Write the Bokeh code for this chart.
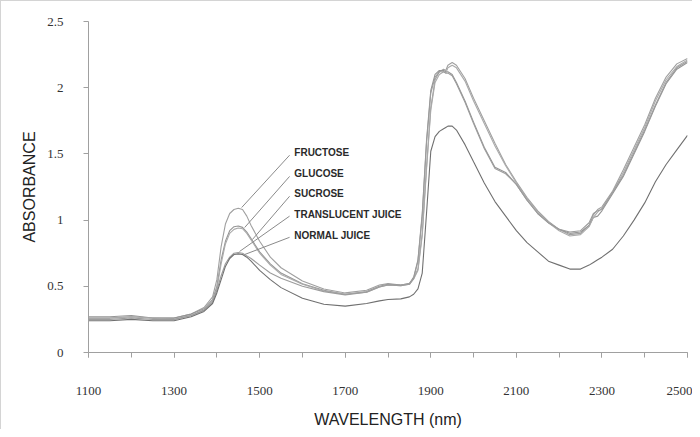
from bokeh.plotting import figure
from bokeh.models import FixedTicker, CustomJSTickFormatter
from bokeh.core.properties import value
from bokeh.embed import file_html
from bokeh.resources import INLINE

wavelength = [1100, 1150, 1200, 1250, 1300, 1340, 1370, 1390, 1400, 1410, 1420, 1430, 1440, 1450,
              1460, 1470, 1480, 1500, 1525, 1550, 1600, 1650, 1700, 1750, 1780, 1800, 1830, 1850,
              1860, 1870, 1880, 1890, 1900, 1910, 1920, 1930, 1935, 1940, 1950, 1960, 1980, 2000,
              2025, 2050, 2075, 2100, 2125, 2150, 2175, 2200, 2225, 2250, 2270, 2280, 2290, 2300,
              2325, 2350, 2375, 2400, 2425, 2450, 2475, 2500]

fructose = [0.26, 0.26, 0.27, 0.26, 0.26, 0.29, 0.34, 0.42, 0.55, 0.80, 0.97, 1.05, 1.08, 1.09,
            1.08, 1.03, 0.96, 0.84, 0.72, 0.64, 0.54, 0.48, 0.45, 0.47, 0.51, 0.52, 0.51, 0.52,
            0.56, 0.63, 0.90, 1.40, 1.85, 2.06, 2.12, 2.14, 2.13, 2.17, 2.19, 2.17, 2.07, 1.92,
            1.75, 1.58, 1.42, 1.29, 1.17, 1.07, 0.99, 0.93, 0.89, 0.90, 0.96, 1.04, 1.08, 1.10,
            1.22, 1.38, 1.55, 1.72, 1.92, 2.08, 2.18, 2.22]

glucose = [0.27, 0.27, 0.28, 0.26, 0.26, 0.29, 0.33, 0.40, 0.50, 0.70, 0.84, 0.92, 0.95, 0.955,
           0.945, 0.91, 0.86, 0.76, 0.67, 0.60, 0.52, 0.47, 0.44, 0.46, 0.50, 0.515, 0.51, 0.52,
           0.57, 0.70, 1.05, 1.60, 1.98, 2.10, 2.13, 2.13, 2.12, 2.12, 2.10, 2.04, 1.90, 1.74,
           1.55, 1.40, 1.36, 1.27, 1.15, 1.05, 0.98, 0.93, 0.90, 0.91, 0.96, 1.02, 1.03, 1.07,
           1.20, 1.33, 1.50, 1.67, 1.86, 2.03, 2.14, 2.19]

sucrose = [0.26, 0.26, 0.27, 0.26, 0.25, 0.28, 0.32, 0.39, 0.48, 0.67, 0.82, 0.90, 0.93, 0.94,
           0.935, 0.90, 0.85, 0.75, 0.66, 0.59, 0.515, 0.465, 0.44, 0.455, 0.495, 0.51, 0.505, 0.515,
           0.555, 0.62, 0.88, 1.38, 1.83, 2.04, 2.10, 2.12, 2.11, 2.15, 2.17, 2.15, 2.05, 1.90,
           1.73, 1.56, 1.41, 1.28, 1.16, 1.06, 0.98, 0.92, 0.88, 0.89, 0.95, 1.02, 1.06, 1.09,
           1.21, 1.36, 1.53, 1.70, 1.90, 2.06, 2.16, 2.21]

translucent_juice = [0.25, 0.25, 0.26, 0.25, 0.25, 0.28, 0.32, 0.38, 0.47, 0.58, 0.67, 0.72, 0.75, 0.755,
                     0.75, 0.73, 0.71, 0.66, 0.60, 0.56, 0.50, 0.46, 0.435, 0.455, 0.495, 0.51, 0.505, 0.515,
                     0.56, 0.69, 1.03, 1.58, 1.96, 2.08, 2.12, 2.12, 2.11, 2.11, 2.09, 2.03, 1.89, 1.73,
                     1.54, 1.39, 1.35, 1.27, 1.15, 1.05, 0.98, 0.93, 0.91, 0.92, 0.98, 1.05, 1.07, 1.08,
                     1.21, 1.34, 1.51, 1.68, 1.87, 2.04, 2.15, 2.20]

normal_juice = [0.24, 0.24, 0.25, 0.24, 0.24, 0.27, 0.31, 0.37, 0.45, 0.55, 0.65, 0.71, 0.74, 0.745,
                0.74, 0.72, 0.69, 0.62, 0.55, 0.49, 0.41, 0.365, 0.35, 0.37, 0.39, 0.40, 0.405, 0.42,
                0.44, 0.48, 0.60, 1.05, 1.52, 1.63, 1.67, 1.69, 1.70, 1.71, 1.71, 1.68, 1.57, 1.44,
                1.28, 1.14, 1.03, 0.92, 0.83, 0.76, 0.69, 0.66, 0.63, 0.63, 0.66, 0.68, 0.70, 0.72,
                0.78, 0.88, 1.00, 1.13, 1.29, 1.42, 1.53, 1.64]

labels = ["FRUCTOSE", "GLUCOSE", "SUCROSE", "TRANSLUCENT JUICE", "NORMAL JUICE"]
label_x = [1581, 1581, 1581, 1581, 1581]
label_y = [1.51, 1.35, 1.20, 1.04, 0.88]
leader_x0 = [1570, 1570, 1570, 1570, 1570]
leader_y0 = [1.49, 1.33, 1.18, 1.03, 0.87]
leader_x1 = [1458, 1465, 1483, 1453, 1465]
leader_y1 = [1.095, 0.944, 0.853, 0.763, 0.740]

x_ticks = [1100, 1300, 1500, 1700, 1900, 2100, 2300, 2500]
x_minor = [1100, 1200, 1300, 1400, 1500, 1600, 1700, 1800, 1900, 2000, 2100, 2200, 2300, 2400, 2500]
y_ticks = [0, 0.5, 1, 1.5, 2, 2.5]

p = figure(width=692, height=429, x_range=(1100, 2500), y_range=(0, 2.5),
           output_backend="svg", toolbar_location=None,
           min_border_left=87, min_border_right=6, min_border_top=20, min_border_bottom=76)
p.styles = {"border-left": "1px solid #d4d4d4", "border-top": "1px solid #d4d4d4"}
p.outline_line_color = None
p.grid.visible = False

series = [(fructose, "#a0a0a0"), (glucose, "#959595"), (sucrose, "#aaaaaa"),
          (translucent_juice, "#9c9c9c"), (normal_juice, "#707070")]
for ys, c in series:
    p.line(wavelength, ys, line_color=c, line_width=1.1)

p.segment(x0=leader_x0, y0=leader_y0, x1=leader_x1, y1=leader_y1, line_color="#8a8a8a", line_width=1)
p.text(x=label_x, y=label_y, text=labels, text_font=value("Liberation Sans"), text_font_size="10px",
       text_color="#2a2a2a", text_baseline="middle", text_align="left", text_font_style="bold")

xa = p.xaxis[0]
xa.ticker = FixedTicker(ticks=x_ticks, minor_ticks=x_minor)
xa.axis_label = "WAVELENGTH (nm)"
ya = p.yaxis[0]
ya.ticker = FixedTicker(ticks=y_ticks, minor_ticks=[])
ya.formatter = CustomJSTickFormatter(code="return tick.toString();")
ya.axis_label = "ABSORBANCE"

for ax in (xa, ya):
    ax.axis_line_color = "#a0a0a0"
    ax.major_tick_line_color = "#a0a0a0"
    ax.minor_tick_line_color = "#a0a0a0"
    ax.major_tick_in = 0
    ax.major_tick_out = 5
    ax.minor_tick_in = 0
    ax.minor_tick_out = 5
    ax.major_label_text_font = "Liberation Serif"
    ax.major_label_text_font_size = "13px"
    ax.major_label_text_color = "#333333"
    ax.axis_label_text_font = "Liberation Sans"
    ax.axis_label_text_font_size = "16px"
    ax.axis_label_text_font_style = "normal"
    ax.axis_label_text_color = "#222222"

xa.major_label_standoff = 29
xa.axis_label_standoff = 13
ya.major_label_standoff = 20
ya.axis_label_standoff = 6

open("out.html", "w").write(file_html(p, INLINE))
